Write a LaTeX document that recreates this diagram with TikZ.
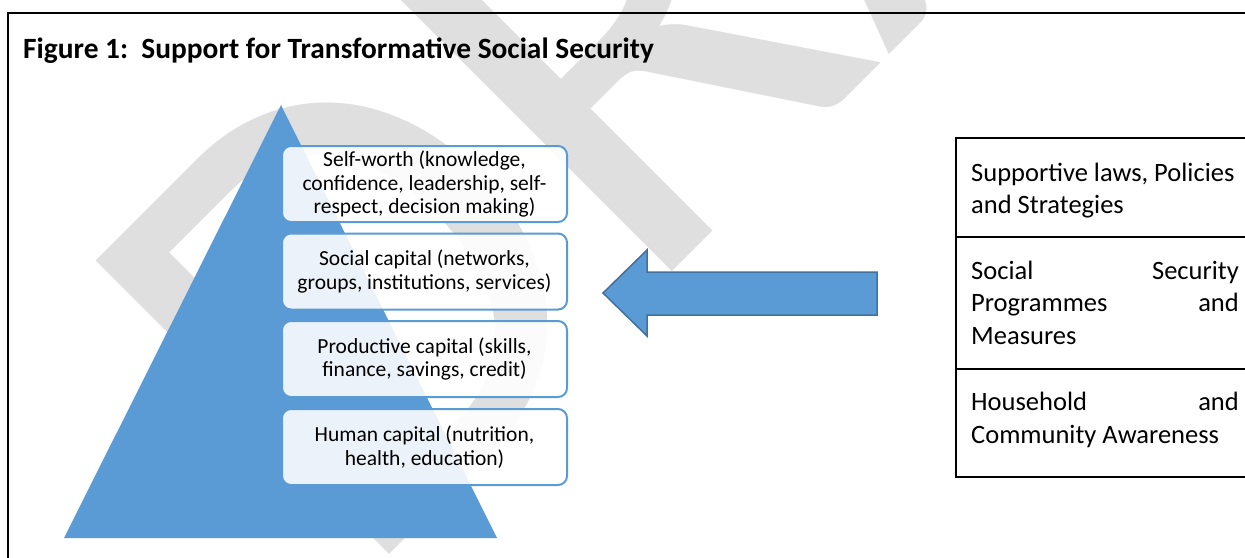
\documentclass[tikz,border=0pt]{standalone}
\usepackage{fontspec}
\setmainfont{Carlito}
\definecolor{pyr}{HTML}{5B9BD5}
\definecolor{arrline}{HTML}{41719C}
\definecolor{wmgray}{gray}{0.875}
\tikzset{
  wmark/.style={text=wmgray, inner sep=0pt, font=\fontsize{647}{700}\selectfont},
  frameline/.style={line width=2.5pt, black},
  lvl/.style={draw=pyr, line width=2pt, rounded corners=9pt, fill=white, fill opacity=0.88, text opacity=1,
    minimum width=285pt, minimum height=76pt, inner sep=0pt, align=center, text=black,
    font=\fontsize{21.5}{23.5}\selectfont},
  blockarrow/.style={fill=pyr, draw=arrline, line width=1.5pt, line join=miter},
  tabline/.style={line width=2.5pt, black},
  tabtext/.style={anchor=base west, inner sep=0pt, font=\fontsize{26.5}{32.3}\selectfont},
  tabtextr/.style={anchor=base east, inner sep=0pt, font=\fontsize{26.5}{32.3}\selectfont},
  titletext/.style={anchor=base west, inner sep=0pt, font=\bfseries\fontsize{29.4}{35}\selectfont}
}
\begin{document}
\begin{tikzpicture}[x=1pt,y=-1pt]
\useasboundingbox (0,0) rectangle (1245,557);
\fill[white] (0,0) rectangle (1245,557);
% watermark
\begin{scope}
\clip (0,0) rectangle (1245,557);
\node[wmark, rotate=45, anchor=base west] (wm) at (358,586) {DRAFT};
\end{scope}
% frame
\coordinate (fbl) at (8,565);
\coordinate (ftr) at (1255,13);
\draw[frameline] (fbl) |- (ftr);
% title
\node[titletext] (title) at (23,58) {Figure 1:\ \ Support for Transformative Social Security};
% pyramid
\coordinate (apex) at (281,105);
\coordinate (bl) at (64,538);
\coordinate (br) at (497,538);
\fill[pyr] (apex) -- (br) -- (bl) -- cycle;
% level boxes
\node[lvl] (b1) at (424.5,184) {Self-worth (knowledge,\\confidence, leadership, self-\\respect, decision making)};
\node[lvl] (b2) at (424.5,271.5) {Social capital (networks,\\groups, institutions, services)};
\node[lvl] (b3) at (424.5,359) {Productive capital (skills,\\finance, savings, credit)};
\node[lvl] (b4) at (424.5,447) {Human capital (nutrition,\\health, education)};
% block arrow
\draw[blockarrow] (877,272) -- (647,272) -- (647,250) -- (603,293) -- (647,336) -- (647,315) -- (877,315) -- cycle;
% table
\coordinate (ttr) at (1255,138);
\coordinate (tbl) at (956,477);
\coordinate (tbr) at (1255,477);
\draw[tabline] (ttr) -| (tbl) -- (tbr);
\coordinate (r1l) at (956,237);
\coordinate (r1r) at (1255,237);
\coordinate (r2l) at (956,369);
\coordinate (r2r) at (1255,369);
\draw[tabline] (r1l) -- (r1r);
\draw[tabline] (r2l) -- (r2r);
% table texts
\node[tabtext] (t11) at (971,181.5) {Supportive laws, Policies};
\node[tabtext] (t12) at (971,213.5) {and Strategies};
\node[tabtext] (t21) at (971,279) {Social};
\node[tabtextr] (t21r) at (1239,279) {Security};
\node[tabtext] (t22) at (971,311.5) {Programmes};
\node[tabtextr] (t22r) at (1239,311.5) {and};
\node[tabtext] (t23) at (971,344) {Measures};
\node[tabtext] (t31) at (971,410.5) {Household};
\node[tabtextr] (t31r) at (1239,410.5) {and};
\node[tabtext] (t32) at (971,443) {Community Awareness};
\end{tikzpicture}
\end{document}
